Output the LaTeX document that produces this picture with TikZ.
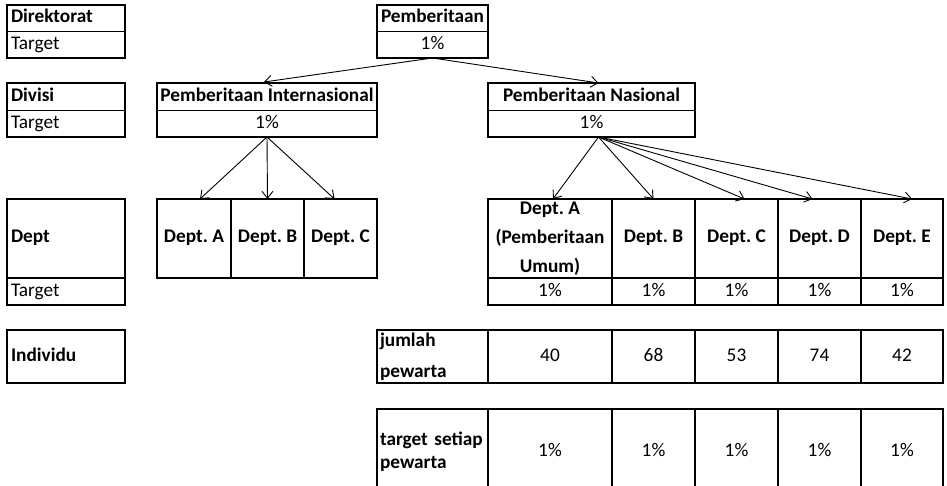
\documentclass[tikz,border=0pt]{standalone}
\usepackage{fontspec}
\setmainfont{Carlito}
\usetikzlibrary{arrows.meta}

\begin{document}
\frenchspacing
\begin{tikzpicture}[x=1pt, y=-1pt,
  font=\fontsize{19.3pt}{23pt}\selectfont,
  cell/.style={draw, line width=1pt, inner sep=2pt, outer sep=0pt, text height=13pt, text depth=4pt},
  tcell/.style={cell, line width=2pt},
  multi/.style={text height={}, text depth={}},
  hdr/.style={font=\fontsize{19.3pt}{23pt}\selectfont\bfseries},
  lbl/.style={text width=#1, align=left},
  frame/.style={line width=2pt},
  arr/.style={line width=0.9pt, -{Straight Barb[length=7pt, width=11pt]}}]
\useasboundingbox (0,0) rectangle (947,486);
\clip (0,0) rectangle (947,486);

% Direktorat
\node[cell, hdr, lbl=110pt, minimum width=118, minimum height=27] (dirL) at (66,18.5) {Direktorat};
\node[cell, lbl=110pt, minimum width=118, minimum height=26] (dirT) at (66,45) {Target};
\draw[frame] (dirL.north west) rectangle (dirT.south east);

\node[cell, hdr, minimum width=111, minimum height=27] (pb) at (432.5,18.5) {Pemberitaan};
\node[cell, minimum width=111, minimum height=26] (pbT) at (432.5,45) {1\%};
\draw[frame] (pb.north west) rectangle (pbT.south east);

% Divisi
\node[cell, hdr, lbl=110pt, minimum width=118, minimum height=28] (divL) at (66,97) {Divisi};
\node[cell, lbl=110pt, minimum width=118, minimum height=26] (divT) at (66,124) {Target};
\draw[frame] (divL.north west) rectangle (divT.south east);

\node[cell, hdr, minimum width=220, minimum height=28] (intl) at (267,97) {Pemberitaan Internasional};
\node[cell, minimum width=220, minimum height=26] (intlT) at (267,124) {1\%};
\draw[frame] (intl.north west) rectangle (intlT.south east);

\node[cell, hdr, minimum width=207, minimum height=28] (nas) at (591.5,97) {Pemberitaan Nasional};
\node[cell, minimum width=207, minimum height=26] (nasT) at (591.5,124) {1\%};
\draw[frame] (nas.north west) rectangle (nasT.south east);

% Dept
\node[tcell, hdr, lbl=110pt, minimum width=118, minimum height=79] (deptL) at (66,238.5) {Dept};
\node[tcell, lbl=110pt, minimum width=118, minimum height=27] (deptT) at (66,291.5) {Target};

\node[tcell, hdr, minimum width=74, minimum height=79] (iA) at (194,238.5) {Dept. A};
\node[tcell, hdr, minimum width=73, minimum height=79] (iB) at (267.5,238.5) {Dept. B};
\node[tcell, hdr, minimum width=73, minimum height=79] (iC) at (340.5,238.5) {Dept. C};

\node[tcell, multi, hdr, align=center, minimum width=124, minimum height=79] (nA) at (550,238.5) {Dept. A\\[6pt](Pemberitaan\\[6pt]Umum)};
\node[tcell, hdr, minimum width=83, minimum height=79] (nB) at (653.5,238.5) {Dept. B};
\node[tcell, hdr, minimum width=83, minimum height=79] (nC) at (736.5,238.5) {Dept. C};
\node[tcell, hdr, minimum width=83, minimum height=79] (nD) at (819.5,238.5) {Dept. D};
\node[tcell, hdr, minimum width=82, minimum height=79] (nE) at (902,238.5) {Dept. E};

\node[tcell, minimum width=124, minimum height=27] (nAT) at (550,291.5) {1\%};
\node[tcell, minimum width=83, minimum height=27] (nBT) at (653.5,291.5) {1\%};
\node[tcell, minimum width=83, minimum height=27] (nCT) at (736.5,291.5) {1\%};
\node[tcell, minimum width=83, minimum height=27] (nDT) at (819.5,291.5) {1\%};
\node[tcell, minimum width=82, minimum height=27] (nET) at (902,291.5) {1\%};

% Individu
\node[tcell, hdr, lbl=110pt, minimum width=118, minimum height=53] (indL) at (66,356.5) {Individu};

\node[tcell, multi, hdr, lbl=105pt, minimum width=111, minimum height=53] (jmlL) at (432.5,356.5) {jumlah\\[8pt]pewarta};
\node[tcell, minimum width=124, minimum height=53] (jA) at (550,356.5) {40};
\node[tcell, minimum width=83, minimum height=53] (jB) at (653.5,356.5) {68};
\node[tcell, minimum width=83, minimum height=53] (jC) at (736.5,356.5) {53};
\node[tcell, minimum width=83, minimum height=53] (jD) at (819.5,356.5) {74};
\node[tcell, minimum width=82, minimum height=53] (jE) at (902,356.5) {42};

\node[tcell, multi, hdr, lbl=105pt, minimum width=111, minimum height=86] (tgtL) at (432.5,452) {target setiap\\pewarta};
\node[tcell, minimum width=124, minimum height=86] (tA) at (550,452) {1\%};
\node[tcell, minimum width=83, minimum height=86] (tB) at (653.5,452) {1\%};
\node[tcell, minimum width=83, minimum height=86] (tC) at (736.5,452) {1\%};
\node[tcell, minimum width=83, minimum height=86] (tD) at (819.5,452) {1\%};
\node[tcell, minimum width=82, minimum height=86] (tE) at (902,452) {1\%};

% panah
\draw[arr] (pbT.south) -- ([xshift=-3pt,yshift=1pt]intl.north);
\draw[arr] (pbT.south) -- ([xshift=7pt]nas.north);

\draw[arr] (intlT.south) -- ([xshift=6pt]iA.north);
\draw[arr] (intlT.south) -- (iB.north);
\draw[arr] (intlT.south) -- ([xshift=-6pt]iC.north);

\draw[arr] ([xshift=7pt]nasT.south) -- ([xshift=3pt]nA.north);
\draw[arr] ([xshift=7pt]nasT.south) -- (nB.north);
\draw[arr] ([xshift=7pt]nasT.south) -- ([xshift=8pt]nC.north);
\draw[arr] ([xshift=7pt]nasT.south) -- ([xshift=-7pt]nD.north);
\draw[arr] ([xshift=7pt]nasT.south) -- ([xshift=10pt]nE.north);
\end{tikzpicture}
\end{document}
